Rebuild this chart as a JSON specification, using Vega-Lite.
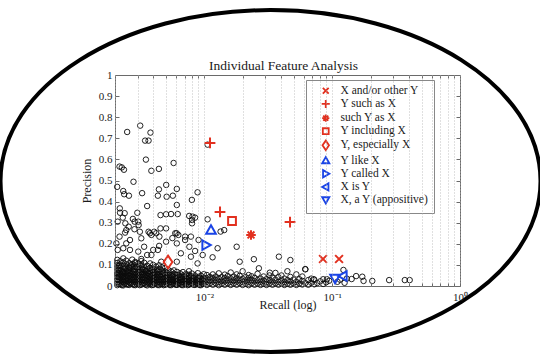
{
  "$schema": "https://vega.github.io/schema/vega-lite/v6.json",
  "width": 345,
  "height": 211,
  "autosize": {"type": "none"},
  "padding": {"left": 115, "top": 75, "right": 80, "bottom": 73},
  "background": "white",
  "title": {"text": "Individual Feature Analysis", "font": "Liberation Serif", "fontSize": 13.5, "fontWeight": "normal", "color": "#1a1a1a", "offset": 5, "anchor": "middle", "frame": "group", "dy": 75, "dx": -4},
  "config": {
    "view": {"stroke": "#6a6a6a", "strokeWidth": 1},
    "axis": {"labelFont": "Liberation Serif", "titleFont": "Liberation Serif", "labelColor": "#1a1a1a", "titleColor": "#1a1a1a", "titleFontWeight": "normal", "domain": false, "tickColor": "#6a6a6a", "labelFontSize": 11, "titleFontSize": 12}
  },
  "resolve": {"axis": {"x": "independent", "y": "independent"}},
  "layer": [
    {
      "data": {"values": [
        {"r":0.00249,"p":0.73},{"r":0.00315,"p":0.76},{"r":0.00344,"p":0.689},{"r":0.00366,"p":0.689},{"r":0.00379,"p":0.727},{"r":0.00349,"p":0.599},{"r":0.00575,"p":0.583},{"r":0.00217,"p":0.566},{"r":0.00226,"p":0.562},{"r":0.00235,"p":0.551},{"r":0.00385,"p":0.546},{"r":0.00441,"p":0.555},{"r":0.0106,"p":0.67},{"r":0.00208,"p":0.47},{"r":0.00279,"p":0.494},{"r":0.00326,"p":0.44},{"r":0.00232,"p":0.45},{"r":0.00236,"p":0.435},{"r":0.00257,"p":0.428},{"r":0.00441,"p":0.458},{"r":0.00503,"p":0.479},{"r":0.00609,"p":0.46},{"r":0.00433,"p":0.428},{"r":0.00507,"p":0.423},{"r":0.00567,"p":0.428},{"r":0.00885,"p":0.444},{"r":0.00799,"p":0.408},
        {"r":0.00357,"p":0.379},{"r":0.00218,"p":0.368},{"r":0.00219,"p":0.347},{"r":0.00238,"p":0.345},{"r":0.00299,"p":0.347},{"r":0.00454,"p":0.336},{"r":0.00502,"p":0.34},{"r":0.00549,"p":0.341},{"r":0.00619,"p":0.341},{"r":0.00761,"p":0.332},{"r":0.00808,"p":0.329},{"r":0.0106,"p":0.316},{"r":0.0021,"p":0.305},{"r":0.0023,"p":0.324},{"r":0.00276,"p":0.318},{"r":0.00304,"p":0.305},{"r":0.00241,"p":0.297},{"r":0.00256,"p":0.281},{"r":0.00284,"p":0.269},{"r":0.00313,"p":0.257},{"r":0.00366,"p":0.257},{"r":0.00405,"p":0.257},{"r":0.00454,"p":0.273},{"r":0.00801,"p":0.313},{"r":0.00801,"p":0.297},{"r":0.00607,"p":0.25},{"r":0.00785,"p":0.234},{"r":0.00609,"p":0.384},{"r":0.00846,"p":0.324},
        {"r":0.0024,"p":0.253},{"r":0.00262,"p":0.218},{"r":0.00321,"p":0.226},{"r":0.00385,"p":0.242},{"r":0.00445,"p":0.234},{"r":0.00502,"p":0.21},{"r":0.00592,"p":0.25},{"r":0.00609,"p":0.202},{"r":0.00707,"p":0.234},{"r":0.00764,"p":0.186},{"r":0.00901,"p":0.218},{"r":0.00655,"p":0.155},{"r":0.00785,"p":0.139},{"r":0.00433,"p":0.171},{"r":0.00385,"p":0.147},{"r":0.00338,"p":0.186},{"r":0.00304,"p":0.163},{"r":0.00262,"p":0.171},{"r":0.00232,"p":0.179},{"r":0.00205,"p":0.202},{"r":0.00609,"p":0.115},{"r":0.00885,"p":0.107},{"r":0.0046,"p":0.115},
        {"r":0.00217,"p":0.234},{"r":0.0021,"p":0.171},{"r":0.00245,"p":0.202},{"r":0.00306,"p":0.289},{"r":0.00285,"p":0.305},{"r":0.00245,"p":0.265},{"r":0.0042,"p":0.25},{"r":0.00375,"p":0.25},{"r":0.00502,"p":0.273},{"r":0.00707,"p":0.218},{"r":0.00846,"p":0.166},{"r":0.0179,"p":0.186},{"r":0.0127,"p":0.179},{"r":0.0097,"p":0.147},{"r":0.0116,"p":0.136},{"r":0.0143,"p":0.265},{"r":0.0134,"p":0.258},{"r":0.0244,"p":0.127},{"r":0.0383,"p":0.139},{"r":0.0471,"p":0.123},{"r":0.0189,"p":0.115},{"r":0.0267,"p":0.084},{"r":0.0325,"p":0.063},{"r":0.0617,"p":0.079},{"r":0.0716,"p":0.032},{"r":0.0909,"p":0.032},
        {"r":0.00212,"p":0.043},{"r":0.00232,"p":0.066},{"r":0.00259,"p":0.085},{"r":0.00288,"p":0.109},{"r":0.00321,"p":0.128},{"r":0.00357,"p":0.147},{"r":0.00398,"p":0.171},{"r":0.00443,"p":0.19},{"r":0.00562,"p":0.227},{"r":0.00626,"p":0.242},
        {"r":0.1225,"p":0.076},{"r":0.142,"p":0.033},{"r":0.154,"p":0.047},{"r":0.172,"p":0.044},{"r":0.176,"p":0.024},{"r":0.206,"p":0.024},{"r":0.279,"p":0.028},{"r":0.37,"p":0.028},{"r":0.404,"p":0.028},{"r":0.115,"p":0.03},{"r":0.13,"p":0.035},{"r":0.11,"p":0.02},{"r":0.125,"p":0.015},
        {"r":0.002084,"p":0.004},{"r":0.002084,"p":0.018},{"r":0.002084,"p":0.033},{"r":0.002084,"p":0.049},{"r":0.002084,"p":0.062},{"r":0.002084,"p":0.078},{"r":0.002084,"p":0.093},{"r":0.002084,"p":0.109},{"r":0.002084,"p":0.124},
        {"r":0.0022,"p":0.011},{"r":0.0022,"p":0.026},{"r":0.0022,"p":0.041},{"r":0.0022,"p":0.056},{"r":0.0022,"p":0.071},{"r":0.0022,"p":0.086},{"r":0.0022,"p":0.101},{"r":0.0022,"p":0.117},
        {"r":0.002322,"p":0.003},{"r":0.002322,"p":0.019},{"r":0.002322,"p":0.034},{"r":0.002322,"p":0.047},{"r":0.002322,"p":0.064},{"r":0.002322,"p":0.079},{"r":0.002322,"p":0.095},{"r":0.002322,"p":0.112},{"r":0.002322,"p":0.131},
        {"r":0.00245,"p":0.009},{"r":0.00245,"p":0.024},{"r":0.00245,"p":0.04},{"r":0.00245,"p":0.055},{"r":0.00245,"p":0.07},{"r":0.00245,"p":0.087},{"r":0.00245,"p":0.103},{"r":0.00245,"p":0.12},
        {"r":0.002585,"p":0.005},{"r":0.002585,"p":0.017},{"r":0.002585,"p":0.032},{"r":0.002585,"p":0.048},{"r":0.002585,"p":0.063},{"r":0.002585,"p":0.077},{"r":0.002585,"p":0.092},{"r":0.002585,"p":0.108},
        {"r":0.002728,"p":0.01},{"r":0.002728,"p":0.027},{"r":0.002728,"p":0.042},{"r":0.002728,"p":0.058},{"r":0.002728,"p":0.072},{"r":0.002728,"p":0.088},{"r":0.002728,"p":0.104},{"r":0.002728,"p":0.125},
        {"r":0.002879,"p":0.004},{"r":0.002879,"p":0.02},{"r":0.002879,"p":0.035},{"r":0.002879,"p":0.05},{"r":0.002879,"p":0.066},{"r":0.002879,"p":0.081},{"r":0.002879,"p":0.097},{"r":0.002879,"p":0.114},
        {"r":0.003038,"p":0.012},{"r":0.003038,"p":0.028},{"r":0.003038,"p":0.043},{"r":0.003038,"p":0.057},{"r":0.003038,"p":0.073},{"r":0.003038,"p":0.089},{"r":0.003038,"p":0.106},
        {"r":0.003206,"p":0.006},{"r":0.003206,"p":0.021},{"r":0.003206,"p":0.036},{"r":0.003206,"p":0.052},{"r":0.003206,"p":0.067},{"r":0.003206,"p":0.083},{"r":0.003206,"p":0.099},{"r":0.003206,"p":0.118},
        {"r":0.003383,"p":0.013},{"r":0.003383,"p":0.029},{"r":0.003383,"p":0.044},{"r":0.003383,"p":0.059},{"r":0.003383,"p":0.075},{"r":0.003383,"p":0.091},{"r":0.003383,"p":0.11},
        {"r":0.003569,"p":0.003},{"r":0.003569,"p":0.018},{"r":0.003569,"p":0.034},{"r":0.003569,"p":0.049},{"r":0.003569,"p":0.064},{"r":0.003569,"p":0.08},{"r":0.003569,"p":0.096},
        {"r":0.003767,"p":0.011},{"r":0.003767,"p":0.025},{"r":0.003767,"p":0.041},{"r":0.003767,"p":0.056},{"r":0.003767,"p":0.071},{"r":0.003767,"p":0.086},{"r":0.003767,"p":0.107},
        {"r":0.003975,"p":0.005},{"r":0.003975,"p":0.02},{"r":0.003975,"p":0.036},{"r":0.003975,"p":0.051},{"r":0.003975,"p":0.067},{"r":0.003975,"p":0.083},{"r":0.003975,"p":0.1},
        {"r":0.004195,"p":0.012},{"r":0.004195,"p":0.027},{"r":0.004195,"p":0.043},{"r":0.004195,"p":0.058},{"r":0.004195,"p":0.074},{"r":0.004195,"p":0.092},
        {"r":0.004426,"p":0.004},{"r":0.004426,"p":0.019},{"r":0.004426,"p":0.034},{"r":0.004426,"p":0.05},{"r":0.004426,"p":0.065},{"r":0.004426,"p":0.081},{"r":0.004426,"p":0.098},
        {"r":0.004671,"p":0.01},{"r":0.004671,"p":0.026},{"r":0.004671,"p":0.042},{"r":0.004671,"p":0.057},{"r":0.004671,"p":0.073},{"r":0.004671,"p":0.088},
        {"r":0.004929,"p":0.006},{"r":0.004929,"p":0.021},{"r":0.004929,"p":0.036},{"r":0.004929,"p":0.052},{"r":0.004929,"p":0.068},{"r":0.004929,"p":0.085},
        {"r":0.0052,"p":0.012},{"r":0.0052,"p":0.028},{"r":0.0052,"p":0.044},{"r":0.0052,"p":0.06},{"r":0.0052,"p":0.077},
        {"r":0.005488,"p":0.004},{"r":0.005488,"p":0.019},{"r":0.005488,"p":0.035},{"r":0.005488,"p":0.051},{"r":0.005488,"p":0.069},
        {"r":0.005791,"p":0.011},{"r":0.005791,"p":0.026},{"r":0.005791,"p":0.042},{"r":0.005791,"p":0.058},{"r":0.005791,"p":0.074},
        {"r":0.00611,"p":0.005},{"r":0.00611,"p":0.02},{"r":0.00611,"p":0.036},{"r":0.00611,"p":0.052},{"r":0.00611,"p":0.067},
        {"r":0.006448,"p":0.012},{"r":0.006448,"p":0.027},{"r":0.006448,"p":0.043},{"r":0.006448,"p":0.06},
        {"r":0.006804,"p":0.004},{"r":0.006804,"p":0.019},{"r":0.006804,"p":0.034},{"r":0.006804,"p":0.05},{"r":0.006804,"p":0.066},
        {"r":0.00718,"p":0.01},{"r":0.00718,"p":0.025},{"r":0.00718,"p":0.041},{"r":0.00718,"p":0.057},
        {"r":0.007577,"p":0.006},{"r":0.007577,"p":0.021},{"r":0.007577,"p":0.037},{"r":0.007577,"p":0.053},{"r":0.007577,"p":0.07},
        {"r":0.007995,"p":0.013},{"r":0.007995,"p":0.028},{"r":0.007995,"p":0.044},{"r":0.007995,"p":0.059},
        {"r":0.008437,"p":0.005},{"r":0.008437,"p":0.02},{"r":0.008437,"p":0.035},{"r":0.008437,"p":0.05},
        {"r":0.008902,"p":0.011},{"r":0.008902,"p":0.026},{"r":0.008902,"p":0.042},{"r":0.008902,"p":0.061},
        {"r":0.009393,"p":0.004},{"r":0.009393,"p":0.018},{"r":0.009393,"p":0.033},{"r":0.009393,"p":0.049},
        {"r":0.009911,"p":0.01},{"r":0.009911,"p":0.025},{"r":0.009911,"p":0.04},{"r":0.009911,"p":0.056},
        {"r":0.002142,"p":0.01},{"r":0.002142,"p":0.027},{"r":0.002142,"p":0.043},{"r":0.002142,"p":0.06},{"r":0.002142,"p":0.076},{"r":0.002142,"p":0.096},
        {"r":0.00226,"p":0.004},{"r":0.00226,"p":0.021},{"r":0.00226,"p":0.037},{"r":0.00226,"p":0.052},{"r":0.00226,"p":0.068},
        {"r":0.002385,"p":0.012},{"r":0.002385,"p":0.029},{"r":0.002385,"p":0.045},{"r":0.002385,"p":0.061},{"r":0.002385,"p":0.083},
        {"r":0.002517,"p":0.006},{"r":0.002517,"p":0.022},{"r":0.002517,"p":0.038},{"r":0.002517,"p":0.054},{"r":0.002517,"p":0.07},
        {"r":0.002656,"p":0.013},{"r":0.002656,"p":0.03},{"r":0.002656,"p":0.045},{"r":0.002656,"p":0.06},{"r":0.002656,"p":0.097},
        {"r":0.002803,"p":0.005},{"r":0.002803,"p":0.021},{"r":0.002803,"p":0.037},{"r":0.002803,"p":0.053},{"r":0.002803,"p":0.068},
        {"r":0.002958,"p":0.011},{"r":0.002958,"p":0.027},{"r":0.002958,"p":0.042},{"r":0.002958,"p":0.06},{"r":0.002958,"p":0.09},
        {"r":0.003121,"p":0.004},{"r":0.003121,"p":0.02},{"r":0.003121,"p":0.035},{"r":0.003121,"p":0.05},{"r":0.003121,"p":0.066},
        {"r":0.003294,"p":0.012},{"r":0.003294,"p":0.028},{"r":0.003294,"p":0.043},{"r":0.003294,"p":0.058},{"r":0.003294,"p":0.08},
        {"r":0.003476,"p":0.006},{"r":0.003476,"p":0.022},{"r":0.003476,"p":0.038},{"r":0.003476,"p":0.053},{"r":0.003476,"p":0.07},
        {"r":0.003667,"p":0.013},{"r":0.003667,"p":0.029},{"r":0.003667,"p":0.046},{"r":0.003667,"p":0.062},
        {"r":0.00387,"p":0.004},{"r":0.00387,"p":0.02},{"r":0.00387,"p":0.036},{"r":0.00387,"p":0.051},{"r":0.00387,"p":0.075},
        {"r":0.004084,"p":0.011},{"r":0.004084,"p":0.027},{"r":0.004084,"p":0.042},{"r":0.004084,"p":0.06},
        {"r":0.00431,"p":0.005},{"r":0.00431,"p":0.021},{"r":0.00431,"p":0.037},{"r":0.00431,"p":0.053},{"r":0.00431,"p":0.069},
        {"r":0.004548,"p":0.012},{"r":0.004548,"p":0.028},{"r":0.004548,"p":0.045},
        {"r":0.0048,"p":0.004},{"r":0.0048,"p":0.019},{"r":0.0048,"p":0.035},{"r":0.0048,"p":0.06},
        {"r":0.00506,"p":0.01},{"r":0.00506,"p":0.026},{"r":0.00506,"p":0.041},
        {"r":0.00534,"p":0.005},{"r":0.00534,"p":0.02},{"r":0.00534,"p":0.036},{"r":0.00534,"p":0.052},
        {"r":0.00564,"p":0.012},{"r":0.00564,"p":0.028},{"r":0.00564,"p":0.046},
        {"r":0.00595,"p":0.006},{"r":0.00595,"p":0.022},{"r":0.00595,"p":0.038},
        {"r":0.00628,"p":0.013},{"r":0.00628,"p":0.03},{"r":0.00628,"p":0.05},
        {"r":0.00662,"p":0.005},{"r":0.00662,"p":0.02},{"r":0.00662,"p":0.036},
        {"r":0.00699,"p":0.012},{"r":0.00699,"p":0.028},{"r":0.00699,"p":0.045},
        {"r":0.00738,"p":0.004},{"r":0.00738,"p":0.019},{"r":0.00738,"p":0.034},
        {"r":0.00778,"p":0.011},{"r":0.00778,"p":0.027},{"r":0.00778,"p":0.047},
        {"r":0.00821,"p":0.006},{"r":0.00821,"p":0.021},{"r":0.00821,"p":0.037},
        {"r":0.00867,"p":0.013},{"r":0.00867,"p":0.03},
        {"r":0.00915,"p":0.005},{"r":0.00915,"p":0.022},{"r":0.00915,"p":0.04},
        {"r":0.00966,"p":0.012},{"r":0.00966,"p":0.03},
        {"r":0.01046,"p":0.005},{"r":0.01046,"p":0.02},{"r":0.01046,"p":0.036},{"r":0.01046,"p":0.052},
        {"r":0.01104,"p":0.012},{"r":0.01104,"p":0.027},{"r":0.01104,"p":0.043},
        {"r":0.01165,"p":0.006},{"r":0.01165,"p":0.021},{"r":0.01165,"p":0.038},{"r":0.01165,"p":0.055},
        {"r":0.01229,"p":0.013},{"r":0.01229,"p":0.029},{"r":0.01229,"p":0.045},
        {"r":0.01297,"p":0.004},{"r":0.01297,"p":0.019},{"r":0.01297,"p":0.035},{"r":0.01297,"p":0.06},
        {"r":0.01368,"p":0.011},{"r":0.01368,"p":0.026},{"r":0.01368,"p":0.042},
        {"r":0.01444,"p":0.006},{"r":0.01444,"p":0.022},{"r":0.01444,"p":0.038},{"r":0.01444,"p":0.054},
        {"r":0.01524,"p":0.013},{"r":0.01524,"p":0.03},{"r":0.01524,"p":0.047},
        {"r":0.01608,"p":0.005},{"r":0.01608,"p":0.02},{"r":0.01608,"p":0.036},{"r":0.01608,"p":0.064},
        {"r":0.01697,"p":0.012},{"r":0.01697,"p":0.027},{"r":0.01697,"p":0.044},
        {"r":0.0179,"p":0.006},{"r":0.0179,"p":0.021},{"r":0.0179,"p":0.037},{"r":0.0179,"p":0.055},
        {"r":0.01889,"p":0.014},{"r":0.01889,"p":0.03},{"r":0.01889,"p":0.048},
        {"r":0.01993,"p":0.005},{"r":0.01993,"p":0.019},{"r":0.01993,"p":0.034},{"r":0.01993,"p":0.07},
        {"r":0.02104,"p":0.011},{"r":0.02104,"p":0.026},{"r":0.02104,"p":0.042},
        {"r":0.0222,"p":0.004},{"r":0.0222,"p":0.02},{"r":0.0222,"p":0.037},{"r":0.0222,"p":0.052},
        {"r":0.02342,"p":0.013},{"r":0.02342,"p":0.029},{"r":0.02342,"p":0.046},
        {"r":0.02471,"p":0.006},{"r":0.02471,"p":0.022},{"r":0.02471,"p":0.038},
        {"r":0.02608,"p":0.012},{"r":0.02608,"p":0.028},{"r":0.02608,"p":0.058},
        {"r":0.02752,"p":0.005},{"r":0.02752,"p":0.02},{"r":0.02752,"p":0.035},
        {"r":0.02904,"p":0.011},{"r":0.02904,"p":0.026},{"r":0.02904,"p":0.045},
        {"r":0.03064,"p":0.005},{"r":0.03064,"p":0.018},{"r":0.03064,"p":0.033},
        {"r":0.03233,"p":0.012},{"r":0.03233,"p":0.028},{"r":0.03233,"p":0.05},
        {"r":0.03412,"p":0.006},{"r":0.03412,"p":0.021},{"r":0.03412,"p":0.039},
        {"r":0.036,"p":0.013},{"r":0.036,"p":0.03},{"r":0.036,"p":0.062},
        {"r":0.03799,"p":0.006},{"r":0.03799,"p":0.02},{"r":0.03799,"p":0.042},
        {"r":0.04009,"p":0.012},{"r":0.04009,"p":0.027},{"r":0.04009,"p":0.05},
        {"r":0.0423,"p":0.005},{"r":0.0423,"p":0.019},{"r":0.0423,"p":0.035},
        {"r":0.04464,"p":0.011},{"r":0.04464,"p":0.028},{"r":0.04464,"p":0.07},
        {"r":0.0471,"p":0.006},{"r":0.0471,"p":0.022},{"r":0.0471,"p":0.043},
        {"r":0.0497,"p":0.013},{"r":0.0497,"p":0.03},
        {"r":0.05245,"p":0.005},{"r":0.05245,"p":0.02},{"r":0.05245,"p":0.055},
        {"r":0.05534,"p":0.012},{"r":0.05534,"p":0.032},
        {"r":0.0584,"p":0.007},{"r":0.0584,"p":0.024},{"r":0.0584,"p":0.045},
        {"r":0.06162,"p":0.014},{"r":0.06162,"p":0.08},
        {"r":0.06502,"p":0.006},{"r":0.06502,"p":0.028},
        {"r":0.06861,"p":0.015},{"r":0.06861,"p":0.035},
        {"r":0.0724,"p":0.008},{"r":0.0724,"p":0.03},
        {"r":0.0764,"p":0.014},{"r":0.08062,"p":0.022},{"r":0.08507,"p":0.01},{"r":0.08507,"p":0.032},{"r":0.08977,"p":0.018},{"r":0.09473,"p":0.025}
      ]},
      "mark": {"type": "point", "shape": "circle", "filled": false, "stroke": "#0a0a0a", "strokeWidth": 0.9, "size": 30, "opacity": 1},
      "encoding": {
        "x": {"field": "r", "type": "quantitative", "scale": {"type": "log", "domain": [0.002, 1], "nice": false},
          "axis": {"orient": "bottom", "values": [0.002,0.003,0.004,0.005,0.006,0.007,0.008,0.009,0.01,0.02,0.03,0.04,0.05,0.06,0.07,0.08,0.09,0.1,0.2,0.3,0.4,0.5,0.6,0.7,0.8,0.9,1],
            "labelExpr": "datum.value == 0.01 ? '10⁻²' : datum.value == 0.1 ? '10⁻¹' : datum.value == 1 ? '10⁰' : ''",
            "grid": true, "gridDash": [1, 2], "gridColor": "#b0b0b0", "gridWidth": 0.8,
            "tickSize": -3, "labelPadding": 8, "labelFlush": false, "labelOverlap": false, "zindex": 2,
            "title": "Recall (log)", "titlePadding": -3}},
        "y": {"field": "p", "type": "quantitative", "scale": {"domain": [0, 1], "nice": false},
          "axis": {"orient": "left", "values": [0,0.1,0.2,0.3,0.4,0.5,0.6,0.7,0.8,0.9,1], "format": "~g", "grid": false,
            "tickSize": -4, "labelPadding": 7, "title": "Precision", "titlePadding": 5}}
      }
    },
    {
      "data": {"values": [
        {"s": "X and/or other Y", "r": 0.0848, "p": 0.128},
        {"s": "X and/or other Y", "r": 0.1132, "p": 0.128},
        {"s": "Y such as X", "r": 0.01107, "p": 0.678},
        {"s": "Y such as X", "r": 0.01326, "p": 0.351},
        {"s": "Y such as X", "r": 0.0468, "p": 0.303},
        {"s": "such Y as X", "r": 0.02317, "p": 0.242},
        {"s": "Y including X", "r": 0.01646, "p": 0.308},
        {"s": "Y, especially X", "r": 0.0052, "p": 0.114},
        {"s": "Y like X", "r": 0.01127, "p": 0.265},
        {"s": "Y called X", "r": 0.0103, "p": 0.194},
        {"s": "X is Y", "r": 0.1216, "p": 0.047},
        {"s": "X, a Y (appositive)", "r": 0.1053, "p": 0.036}
      ]},
      "mark": {"type": "point", "filled": false, "strokeWidth": 2, "size": 144, "opacity": 1},
      "encoding": {
        "x": {"field": "r", "type": "quantitative",
          "axis": {"orient": "top", "values": [0.002,0.003,0.004,0.005,0.006,0.007,0.008,0.009,0.01,0.02,0.03,0.04,0.05,0.06,0.07,0.08,0.09,0.1,0.2,0.3,0.4,0.5,0.6,0.7,0.8,0.9,1],
            "labels": false, "title": null, "grid": false, "tickSize": -3}},
        "y": {"field": "p", "type": "quantitative",
          "axis": {"orient": "right", "values": [0,0.1,0.2,0.3,0.4,0.5,0.6,0.7,0.8,0.9,1], "labels": false, "title": null, "grid": false, "tickSize": -4}},
        "color": {"field": "s", "type": "nominal",
          "scale": {"domain": ["X and/or other Y","Y such as X","such Y as X","Y including X","Y, especially X","Y like X","Y called X","X is Y","X, a Y (appositive)"],
            "range": ["#e2301f","#e2301f","#e2301f","#e2301f","#e2301f","#1a44e6","#1a44e6","#1a44e6","#1a44e6"]},
          "legend": {"title": null, "orient": "none", "legendX": 191, "legendY": 5, "padding": 5, "strokeColor": "#888888", "fillColor": "white", "labelFont": "Liberation Serif", "labelFontSize": 11.5, "labelColor": "#1a1a1a", "symbolSize": 81, "symbolStrokeWidth": 1.8, "symbolOffset": 9, "labelOffset": 9, "rowPadding": -1.8, "labelLimit": 250}},
        "shape": {"field": "s", "type": "nominal",
          "scale": {"domain": ["X and/or other Y","Y such as X","such Y as X","Y including X","Y, especially X","Y like X","Y called X","X is Y","X, a Y (appositive)"],
            "range": [
              "M-0.65,-0.65L0.65,0.65M-0.65,0.65L0.65,-0.65",
              "M0,-0.9L0,0.9M-0.9,0L0.9,0",
              "M0,-0.8L0,0.8M-0.8,0L0.8,0M-0.57,-0.57L0.57,0.57M-0.57,0.57L0.57,-0.57",
              "M-0.65,-0.65L0.65,-0.65L0.65,0.65L-0.65,0.65Z",
              "M0,-1.05L0.72,0L0,1.05L-0.72,0Z",
              "M0,-0.8L0.8,0.6L-0.8,0.6Z",
              "M-0.6,-0.8L0.8,0L-0.6,0.8Z",
              "M0.6,-0.8L-0.8,0L0.6,0.8Z",
              "M0,0.8L0.8,-0.6L-0.8,-0.6Z"
            ]},
          "legend": {"title": null, "orient": "none", "legendX": 191, "legendY": 5, "padding": 5, "strokeColor": "#888888", "fillColor": "white", "labelFont": "Liberation Serif", "labelFontSize": 11.5, "labelColor": "#1a1a1a", "symbolSize": 81, "symbolStrokeWidth": 1.8, "symbolOffset": 9, "labelOffset": 9, "rowPadding": -1.8, "labelLimit": 250}}
      }
    },
    {
      "data": {"values": [{"r": 0.03293, "p": 0.4976}]},
      "mark": {"type": "point", "shape": "M-1,0C-1,-0.35 -0.552,-0.633 0,-0.633C0.552,-0.633 1,-0.35 1,0C1,0.35 0.552,0.633 0,0.633C-0.552,0.633 -1,0.35 -1,0Z", "size": 291600, "filled": false, "stroke": "black", "strokeWidth": 4, "opacity": 1},
      "encoding": {
        "x": {"field": "r", "type": "quantitative", "axis": null},
        "y": {"field": "p", "type": "quantitative", "axis": null}
      }
    }
  ]
}
